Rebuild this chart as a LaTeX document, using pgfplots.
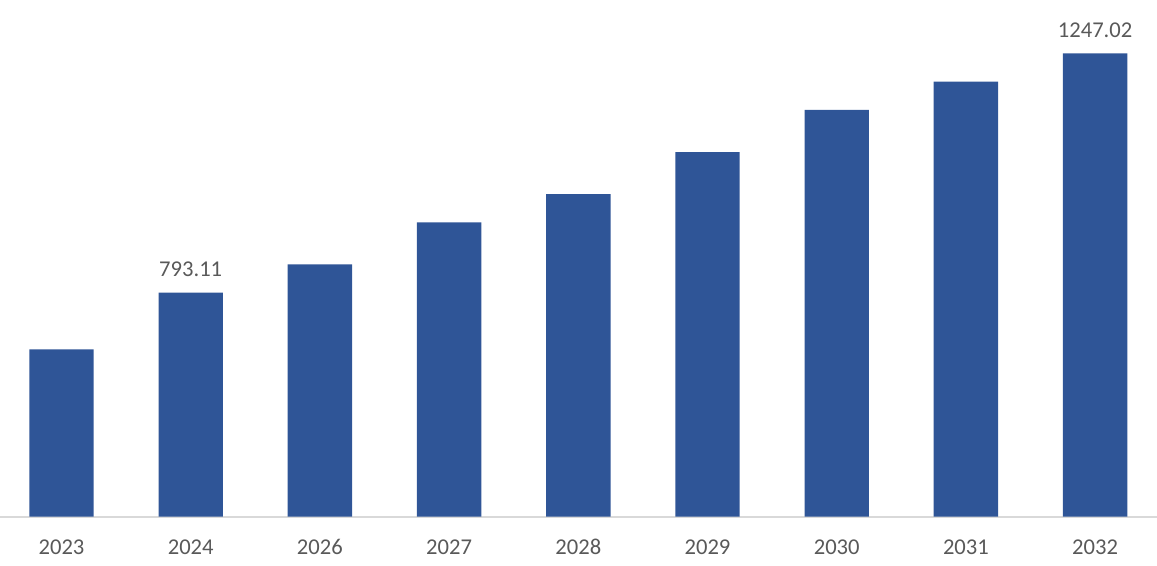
\documentclass[border=0pt]{standalone}
\usepackage{pgfplots}
\pgfplotsset{compat=1.18}
\usepackage{fontspec}
\setmainfont{Carlito}
\definecolor{barblue}{HTML}{2F5597}
\definecolor{txtgrey}{HTML}{595959}
\definecolor{axgrey}{HTML}{D9D9D9}
\begin{document}
\begin{tikzpicture}
\path[use as bounding box] (0,-24.65pt) rectangle (578.5pt,258.35pt);
\begin{axis}[
  at={(0,0)}, anchor=south west,
  scale only axis,
  width=578.5pt, height=253.35pt,
  xmin=-0.476, xmax=8.479,
  ymin=368.4, ymax=1329.1,
  axis x line=bottom,
  axis y line=none,
  x axis line style={draw=axgrey, line width=1pt, -},
  xtick=data,
  xticklabels={2023,2024,2026,2027,2028,2029,2030,2031,2032},
  major tick length=0pt,
  xticklabel style={font=\fontsize{11.3}{13}\selectfont, text=txtgrey, text height=7.3pt, text depth=0pt, yshift=-8.3pt},
  /pgf/number format/assume math mode=true,
  ybar, bar width=32.2pt,
  point meta=explicit symbolic,
  nodes near coords,
  nodes near coords style={font=\fontsize{11.3}{13}\selectfont, text=txtgrey, yshift=4.5pt},
  clip=false,
]
\addplot[fill=barblue, draw=none] coordinates {
  (0,685.8) []
  (1,793.11) [793.11]
  (2,847.0) []
  (3,926.6) []
  (4,980.2) []
  (5,1059.4) []
  (6,1139.5) []
  (7,1193.2) []
  (8,1247.02) [1247.02]
};
\end{axis}
\end{tikzpicture}
\end{document}
